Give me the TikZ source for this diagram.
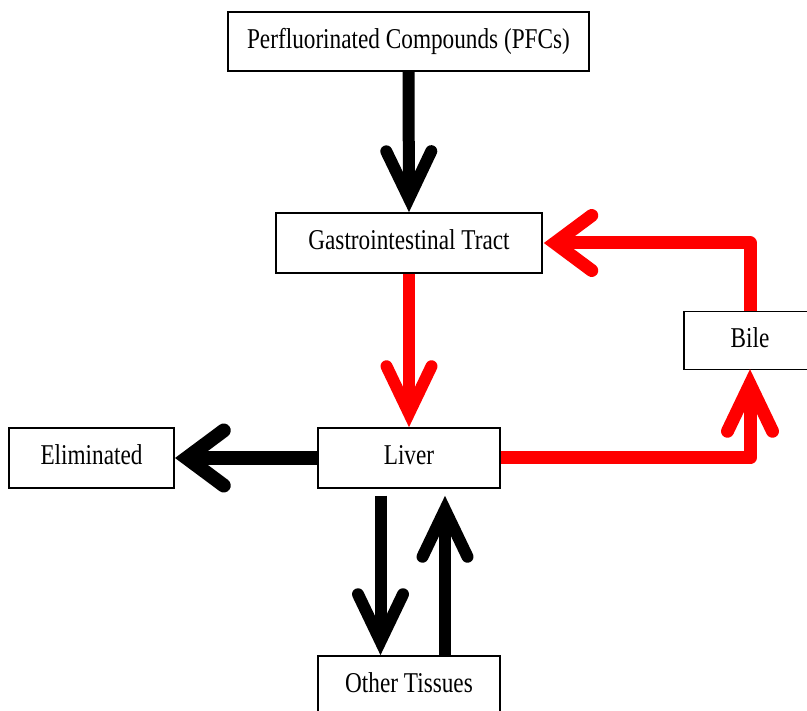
\documentclass[tikz,border=0pt]{standalone}
\usepackage{fontspec}
\setmainfont{Liberation Serif}[FakeStretch=0.81]
\usetikzlibrary{arrows.meta}
\makeatletter
\pgfdeclarearrow{
  name = Chev,
  parameters = {\the\pgfarrowlength,\the\pgfarrowwidth,\the\pgfarrowinset,\the\pgfarrowlinewidth},
  setup code = {
    \pgfarrowssettipend{0pt}
    \pgfarrowssetlineend{-\pgfarrowinset}
    \pgfarrowssetbackend{-\pgfarrowlength}
    \pgfarrowssavethe\pgfarrowlinewidth
    \pgfarrowssavethe\pgfarrowlength
    \pgfarrowssavethe\pgfarrowwidth
    \pgfarrowssavethe\pgfarrowinset
  },
  drawing code = {
    \pgfsetdash{}{+0pt}
    \pgfsetroundcap
    \pgfsetmiterjoin
    \pgfsetlinewidth{\pgfarrowlinewidth}
    \pgfpathmoveto{\pgfqpoint{-\pgfarrowlength}{.5\pgfarrowwidth}}
    \pgfpathlineto{\pgfqpoint{-\pgfarrowinset}{0pt}}
    \pgfpathlineto{\pgfqpoint{-\pgfarrowlength}{-.5\pgfarrowwidth}}
    \pgfusepathqstroke
  },
  defaults = {length=61pt, width=45pt, inset=14pt}
}
\makeatother
\definecolor{flowred}{RGB}{255,0,0}
\tikzset{
  box/.style={draw=black, line width=1.5pt, fill=white, inner sep=0pt,
    text height=20pt, text depth=6.3pt, font=\fontsize{28.7pt}{34pt}\selectfont},
  vhead/.style={-{Chev[length=61pt,width=45pt,inset=14pt,line width=#1]}},
  hhead/.style={-{Chev[length=49pt,width=55pt,inset=12pt,line width=#1]}},
  vflow/.style={line width=12pt, vhead=12pt},
  hflow/.style={line width=14pt, hhead=14pt},
}
\begin{document}
\begin{tikzpicture}[x=1pt,y=-1pt]
\clip (0,0) rectangle (807,711);
\fill[white] (0,0) rectangle (807,711);
\node[box, minimum width=361pt, minimum height=59pt] (pfc) at (408.5,41.5) {Perfluorinated Compounds (PFCs)};
\node[box, minimum width=266pt, minimum height=60pt] (gi) at (409,243) {Gastrointestinal Tract};
\node[box, minimum width=182pt, minimum height=60pt] (liver) at (409,458) {Liver};
\node[box, minimum width=165pt, minimum height=60pt] (elim) at (91.5,458) {Eliminated};
\node[box, minimum width=182pt, minimum height=60pt] (ot) at (409,686) {Other Tissues};
\node[box, minimum width=132pt, minimum height=58pt] (bile) at (750,340.5) {Bile};

\draw[vflow, black] (pfc.south) -- (gi.north);
\draw[vflow, flowred] (gi.south) -- (liver.north);
\draw[hflow, black] (liver.west) -- (elim.east);
\draw[vflow, black] ([xshift=-28.5pt,yshift=-7pt]liver.south) -- ([xshift=-28.5pt]ot.north);
\draw[vflow, black] ([xshift=36pt]ot.north) -- ([xshift=36pt,yshift=-7pt]liver.south);
\draw[flowred, line width=13pt, line join=round, vhead=13pt] (liver.east) -| (bile.south);
\draw[flowred, line width=13pt, line join=round, hhead=13pt] (bile.north) |- (gi.east);
\end{tikzpicture}
\end{document}
